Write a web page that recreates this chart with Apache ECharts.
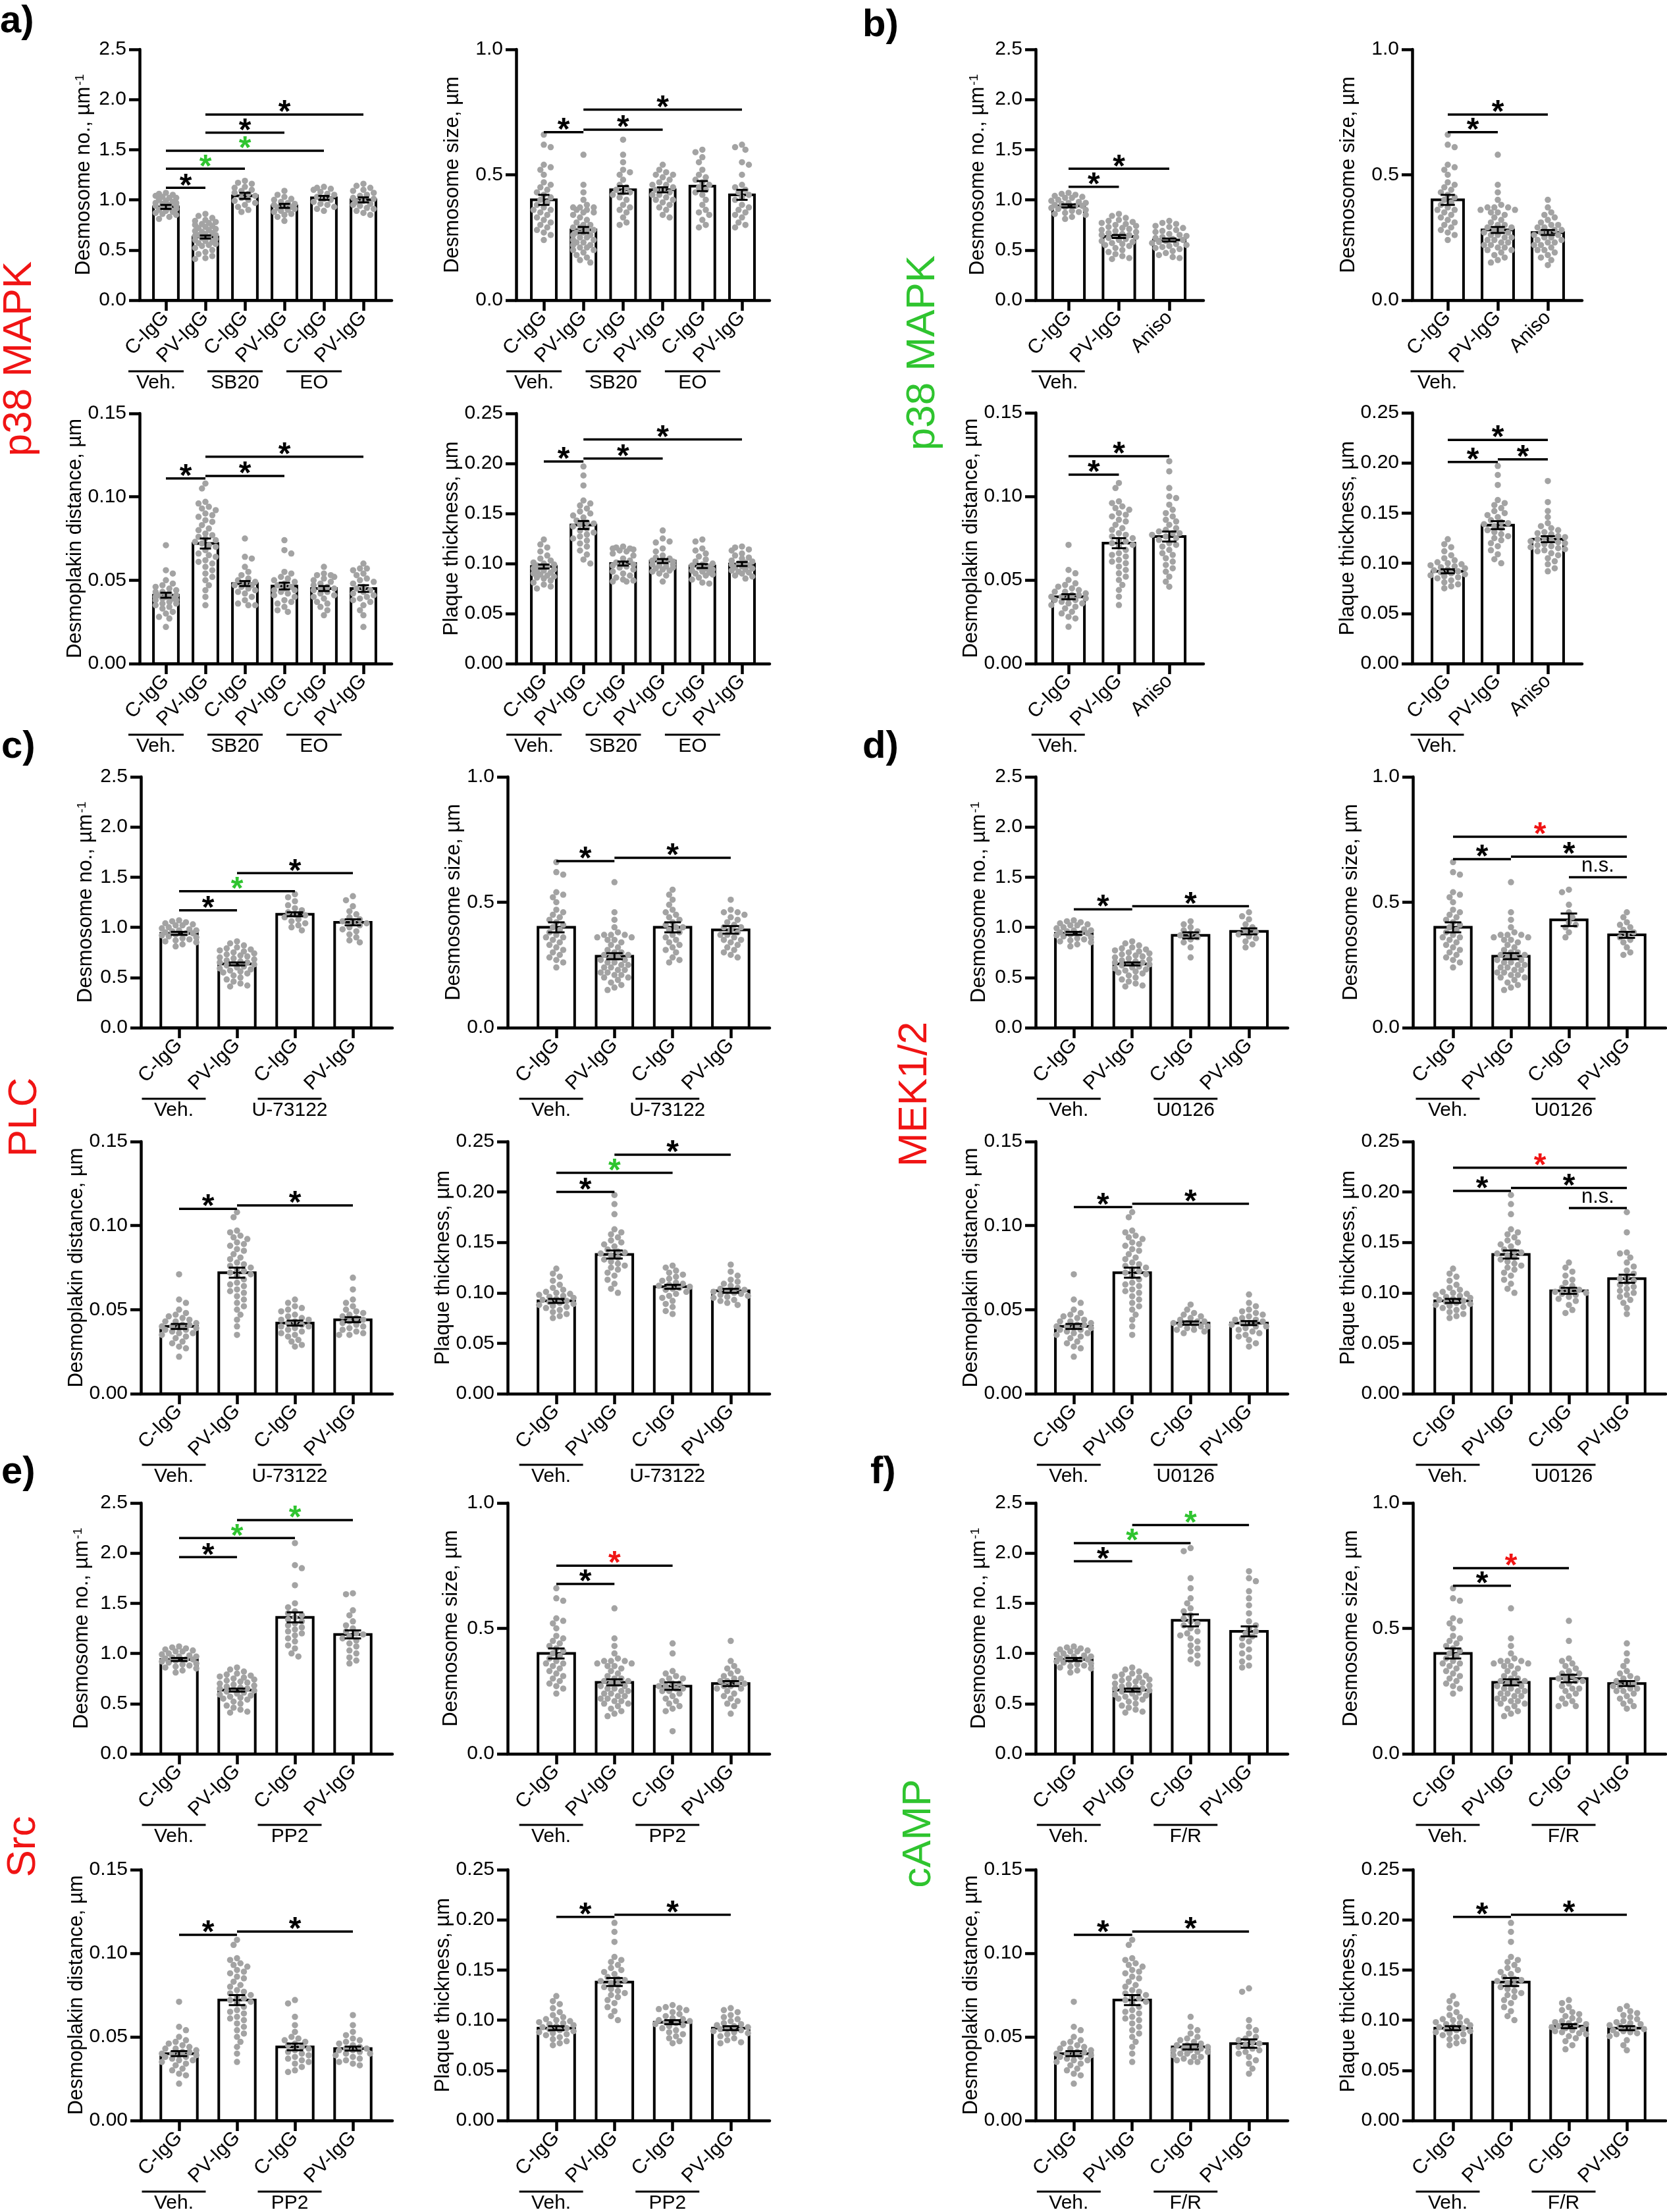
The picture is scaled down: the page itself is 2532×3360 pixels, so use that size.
<!DOCTYPE html>
<html>
<head>
<meta charset="utf-8">
<script src="https://cdn.jsdelivr.net/npm/echarts@6/dist/echarts.min.js"></script>
<style>
html,body{margin:0;padding:0;background:#fff}
#fig{width:2532px;height:3360px}
</style>
</head>
<body>
<div id="fig"></div>
<script>
// Veh. controls (C-IgG / PV-IgG) - same points appear in every panel
var ctlNoC = [1.07,1.05,1.06,1.04,1.03,1.02,1.02,1.00,0.99,0.98,0.97,0.97,0.96,0.95,0.94,0.94,0.93,0.92,0.91,0.90,0.89,0.88,0.87,0.86,0.85,0.83,0.81];
var ctlNoP = [0.86,0.84,0.82,0.80,0.79,0.78,0.77,0.76,0.75,0.74,0.73,0.72,0.71,0.70,0.69,0.68,0.67,0.66,0.65,0.65,0.64,0.63,0.62,0.61,0.60,0.59,0.58,0.57,0.56,0.55,0.54,0.52,0.50,0.48,0.46,0.44,0.42,0.41];
var ctlSzC = [0.66,0.62,0.61,0.54,0.53,0.52,0.50,0.47,0.46,0.45,0.44,0.43,0.42,0.41,0.40,0.39,0.38,0.37,0.36,0.36,0.35,0.34,0.33,0.32,0.31,0.30,0.29,0.28,0.27,0.26,0.24];
var ctlSzP = [0.58,0.46,0.43,0.40,0.38,0.37,0.37,0.37,0.36,0.36,0.35,0.35,0.34,0.33,0.32,0.31,0.30,0.30,0.29,0.29,0.28,0.28,0.27,0.27,0.26,0.26,0.25,0.25,0.24,0.24,0.23,0.23,0.22,0.22,0.21,0.21,0.20,0.20,0.19,0.18,0.17,0.16,0.15];
var ctlDpC = [0.071,0.056,0.054,0.050,0.048,0.047,0.046,0.045,0.044,0.043,0.043,0.042,0.041,0.041,0.040,0.040,0.039,0.039,0.038,0.038,0.037,0.036,0.036,0.035,0.034,0.033,0.031,0.030,0.028,0.027,0.022];
var ctlDpP = [0.108,0.105,0.097,0.096,0.094,0.093,0.092,0.090,0.089,0.088,0.086,0.085,0.083,0.081,0.080,0.078,0.077,0.076,0.075,0.074,0.073,0.072,0.071,0.070,0.068,0.066,0.065,0.064,0.062,0.061,0.060,0.058,0.056,0.054,0.052,0.050,0.047,0.044,0.040,0.035];
var ctlPlC = [0.124,0.119,0.116,0.112,0.108,0.105,0.103,0.101,0.100,0.099,0.098,0.097,0.096,0.095,0.094,0.093,0.092,0.091,0.090,0.089,0.088,0.087,0.086,0.085,0.083,0.081,0.079,0.077,0.075];
var ctlPlP = [0.197,0.188,0.178,0.163,0.160,0.158,0.155,0.152,0.150,0.148,0.146,0.143,0.141,0.140,0.139,0.137,0.135,0.133,0.131,0.129,0.127,0.125,0.123,0.120,0.117,0.113,0.109,0.104,0.100];

// a) p38 MAPK inhibition (SB20, EO)
var aLabels = ['C-IgG','PV-IgG','C-IgG','PV-IgG','C-IgG','PV-IgG'];
var aGroups = ['Veh.','SB20','EO'];
var aNoSBc = [1.19,1.17,1.16,1.13,1.12,1.10,1.09,1.07,1.06,1.04,1.02,1.00,0.99,0.97,0.95,0.93,0.90,0.88];
var aNoSBp = [1.09,1.05,1.03,1.01,1.00,0.98,0.97,0.96,0.95,0.94,0.93,0.92,0.91,0.90,0.89,0.88,0.86,0.85,0.83,0.79];
var aNoEOc = [1.13,1.12,1.11,1.10,1.08,1.06,1.05,1.03,1.01,1.00,0.98,0.96,0.95,0.93,0.91,0.89];
var aNoEOp = [1.16,1.14,1.12,1.10,1.09,1.07,1.05,1.04,1.02,1.01,0.99,0.98,0.96,0.95,0.94,0.92,0.91,0.89,0.87,0.85];
var aSzSBc = [0.64,0.58,0.55,0.52,0.51,0.50,0.48,0.46,0.45,0.44,0.43,0.43,0.42,0.41,0.40,0.38,0.37,0.36,0.35,0.33,0.31,0.30];
var aSzSBp = [0.54,0.52,0.51,0.50,0.50,0.49,0.48,0.47,0.46,0.46,0.45,0.44,0.44,0.43,0.42,0.42,0.41,0.40,0.40,0.39,0.38,0.37,0.36,0.34,0.33];
var aSzEOc = [0.60,0.59,0.57,0.55,0.52,0.50,0.49,0.48,0.47,0.46,0.45,0.44,0.43,0.42,0.40,0.38,0.36,0.35,0.34,0.32,0.30,0.29];
var aSzEOp = [0.62,0.61,0.60,0.55,0.54,0.50,0.46,0.45,0.44,0.43,0.42,0.41,0.40,0.38,0.37,0.36,0.35,0.34,0.33,0.31,0.30,0.29];
var aDpSBc = [0.075,0.064,0.063,0.058,0.055,0.053,0.051,0.050,0.049,0.048,0.047,0.047,0.046,0.045,0.044,0.043,0.042,0.040,0.038,0.036,0.035,0.035];
var aDpSBp = [0.074,0.068,0.066,0.055,0.054,0.052,0.051,0.050,0.049,0.048,0.047,0.046,0.045,0.044,0.044,0.043,0.042,0.041,0.040,0.038,0.037,0.036,0.034,0.032,0.031];
var aDpEOc = [0.058,0.054,0.053,0.053,0.052,0.051,0.050,0.049,0.048,0.047,0.046,0.045,0.045,0.044,0.043,0.042,0.041,0.040,0.039,0.037,0.036,0.034,0.032,0.029];
var aDpEOp = [0.060,0.057,0.057,0.056,0.054,0.053,0.051,0.050,0.049,0.048,0.046,0.045,0.044,0.043,0.042,0.041,0.040,0.039,0.038,0.037,0.035,0.032,0.029,0.022];
var aPlSBc = [0.117,0.116,0.115,0.115,0.114,0.113,0.112,0.110,0.108,0.105,0.103,0.101,0.100,0.099,0.098,0.097,0.096,0.094,0.092,0.090,0.088,0.086,0.084,0.083,0.082,0.082];
var aPlSBp = [0.133,0.125,0.122,0.121,0.115,0.112,0.108,0.106,0.105,0.104,0.103,0.102,0.101,0.100,0.099,0.099,0.098,0.097,0.096,0.095,0.094,0.093,0.092,0.090,0.088,0.082];
var aPlEOc = [0.124,0.122,0.115,0.113,0.110,0.107,0.104,0.102,0.100,0.099,0.098,0.097,0.096,0.095,0.094,0.093,0.092,0.091,0.090,0.089,0.088,0.086,0.084,0.081,0.080];
var aPlEOp = [0.117,0.116,0.114,0.113,0.110,0.108,0.106,0.105,0.103,0.102,0.101,0.100,0.099,0.098,0.097,0.096,0.095,0.094,0.093,0.092,0.091,0.090,0.088,0.087,0.085];
var aNoMean = [0.93,0.63,1.04,0.94,1.02,1.00], aNoSem = [0.02,0.015,0.03,0.02,0.02,0.025];
var aSzMean = [0.40,0.28,0.44,0.44,0.455,0.42], aSzSem = [0.02,0.012,0.015,0.01,0.02,0.02];
var aDpMean = [0.041,0.072,0.048,0.0465,0.045,0.045], aDpSem = [0.0015,0.003,0.0015,0.002,0.0015,0.002];
var aPlMean = [0.097,0.1385,0.100,0.1025,0.0975,0.0995], aPlSem = [0.002,0.004,0.002,0.002,0.002,0.002];
var aNoSig = [[0,1,1.12,'k'],[0,2,1.31,'g'],[0,4,1.49,'g'],[1,3,1.67,'k'],[1,5,1.85,'k']];
var aSzSig = [[0,1,0.67,'k'],[1,3,0.68,'k'],[1,5,0.76,'k']];
var aDpSig = [[0,1,0.111,'k'],[1,3,0.1125,'k'],[1,5,0.124,'k']];
var aPlSig = [[0,1,0.202,'k'],[1,3,0.205,'k'],[1,5,0.224,'k']];

// b) p38 MAPK activation (anisomycin)
var bLabels = ['C-IgG','PV-IgG','Aniso'];
var bGroups = ['Veh.'];
var bNoAn = [0.79,0.77,0.76,0.74,0.73,0.72,0.70,0.69,0.68,0.66,0.65,0.64,0.63,0.62,0.61,0.60,0.59,0.58,0.57,0.56,0.55,0.54,0.53,0.52,0.51,0.49,0.47,0.45,0.43,0.42];
var bSzAn = [0.40,0.37,0.35,0.34,0.33,0.32,0.31,0.30,0.30,0.29,0.29,0.28,0.28,0.27,0.27,0.26,0.26,0.25,0.25,0.24,0.24,0.23,0.23,0.22,0.22,0.21,0.20,0.20,0.19,0.18,0.17,0.16,0.14];
var bDpAn = [0.121,0.115,0.105,0.100,0.099,0.095,0.092,0.090,0.088,0.086,0.085,0.083,0.081,0.080,0.079,0.078,0.078,0.077,0.076,0.075,0.074,0.072,0.071,0.070,0.068,0.066,0.065,0.063,0.061,0.059,0.057,0.055,0.052,0.049,0.046];
var bPlAn = [0.182,0.161,0.152,0.146,0.140,0.137,0.135,0.133,0.131,0.130,0.129,0.127,0.126,0.125,0.124,0.123,0.122,0.121,0.120,0.119,0.118,0.117,0.116,0.115,0.114,0.113,0.112,0.110,0.108,0.105,0.102,0.099,0.095,0.092];
var bNoMean = [0.94,0.635,0.60], bNoSem = [0.015,0.015,0.015];
var bSzMean = [0.40,0.28,0.27], bSzSem = [0.02,0.012,0.01];
var bDpMean = [0.040,0.072,0.076], bDpSem = [0.0015,0.003,0.003];
var bPlMean = [0.092,0.138,0.124], bPlSem = [0.002,0.004,0.003];
var bNoSig = [[0,1,1.13,'k'],[0,2,1.31,'k']];
var bSzSig = [[0,1,0.67,'k'],[0,2,0.74,'k']];
var bDpSig = [[0,1,0.113,'k'],[0,2,0.124,'k']];
var bPlSig = [[0,1,0.201,'k'],[1,2,0.2035,'k'],[0,2,0.223,'k']];

// c) PLC (U-73122)
var cLabels = ['C-IgG','PV-IgG','C-IgG','PV-IgG'];
var cGroups = ['Veh.','U-73122'];
var cNoUc = [1.33,1.30,1.26,1.22,1.19,1.17,1.15,1.13,1.12,1.10,1.08,1.06,1.04,1.02,1.00,0.97];
var cNoUp = [1.31,1.27,1.21,1.16,1.13,1.10,1.08,1.06,1.05,1.04,1.02,1.00,0.98,0.96,0.93,0.90,0.87,0.85];
var cSzUc = [0.55,0.53,0.51,0.49,0.47,0.46,0.45,0.44,0.43,0.42,0.41,0.40,0.40,0.39,0.38,0.37,0.36,0.35,0.34,0.33,0.32,0.31,0.30,0.28,0.27,0.26];
var cSzUp = [0.51,0.47,0.46,0.46,0.45,0.44,0.43,0.42,0.41,0.40,0.40,0.39,0.38,0.37,0.37,0.36,0.35,0.35,0.34,0.33,0.32,0.31,0.30,0.29,0.28];
var cDpUc = [0.056,0.054,0.052,0.051,0.050,0.049,0.047,0.046,0.045,0.044,0.044,0.043,0.042,0.041,0.040,0.040,0.039,0.038,0.037,0.036,0.035,0.034,0.032,0.031,0.029,0.028];
var cDpUp = [0.069,0.062,0.056,0.054,0.052,0.050,0.049,0.048,0.047,0.046,0.045,0.044,0.043,0.042,0.041,0.040,0.039,0.038,0.037,0.036,0.035,0.035];
var cPlUc = [0.127,0.125,0.122,0.120,0.118,0.116,0.114,0.112,0.110,0.109,0.108,0.107,0.106,0.105,0.104,0.103,0.101,0.099,0.097,0.095,0.092,0.089,0.086,0.082,0.079];
var cPlUp = [0.128,0.121,0.117,0.113,0.111,0.109,0.107,0.105,0.104,0.103,0.102,0.101,0.100,0.099,0.098,0.097,0.096,0.095,0.093,0.092,0.090,0.088];
var cNoMean = [0.94,0.635,1.13,1.05], cNoSem = [0.015,0.015,0.02,0.03];
var cSzMean = [0.40,0.285,0.40,0.39], cSzSem = [0.02,0.012,0.02,0.015];
var cDpMean = [0.040,0.072,0.042,0.044], cDpSem = [0.0015,0.003,0.0015,0.0015];
var cPlMean = [0.092,0.138,0.106,0.102], cPlSem = [0.002,0.004,0.002,0.002];
var cNoSig = [[0,1,1.17,'k'],[0,2,1.36,'g'],[1,3,1.54,'k']];
var cSzSig = [[0,1,0.664,'k'],[1,3,0.677,'k']];
var cDpSig = [[0,1,0.110,'k'],[1,3,0.112,'k']];
var cPlSig = [[0,1,0.200,'k'],[0,2,0.219,'g'],[1,3,0.237,'k']];

// d) MEK1/2 (U0126)
var dLabels = ['C-IgG','PV-IgG','C-IgG','PV-IgG'];
var dGroups = ['Veh.','U0126'];
var dNoUc = [1.06,1.03,1.00,0.97,0.96,0.94,0.92,0.90,0.88,0.85,0.80,0.70];
var dNoUp = [1.15,1.11,1.08,1.03,1.00,0.97,0.95,0.93,0.91,0.89,0.86,0.83,0.80];
var dSzUc = [0.55,0.54,0.49,0.46,0.44,0.42,0.41,0.40,0.38,0.36];
var dSzUp = [0.46,0.44,0.42,0.41,0.40,0.39,0.38,0.37,0.36,0.35,0.34,0.32,0.30,0.29];
var dDpUc = [0.053,0.050,0.048,0.047,0.046,0.045,0.044,0.043,0.043,0.042,0.042,0.041,0.041,0.040,0.040,0.039,0.038,0.038,0.037,0.036];
var dDpUp = [0.059,0.054,0.052,0.050,0.049,0.048,0.047,0.046,0.045,0.044,0.044,0.043,0.042,0.042,0.041,0.040,0.040,0.039,0.038,0.037,0.036,0.035,0.034,0.032,0.030,0.028];
var dPlUc = [0.130,0.125,0.121,0.117,0.113,0.110,0.107,0.105,0.103,0.102,0.101,0.100,0.099,0.098,0.096,0.094,0.092,0.088,0.083,0.080];
var dPlUp = [0.180,0.160,0.140,0.139,0.135,0.130,0.126,0.122,0.119,0.116,0.114,0.112,0.110,0.108,0.106,0.104,0.102,0.100,0.098,0.096,0.093,0.090,0.085,0.079];
var dNoMean = [0.94,0.635,0.92,0.96], dNoSem = [0.015,0.015,0.03,0.03];
var dSzMean = [0.40,0.285,0.43,0.37], dSzSem = [0.02,0.012,0.025,0.012];
var dDpMean = [0.040,0.072,0.042,0.042], dDpSem = [0.0015,0.003,0.001,0.0012];
var dPlMean = [0.092,0.138,0.102,0.114], dPlSem = [0.002,0.004,0.003,0.004];
var dNoSig = [[0,1,1.18,'k'],[1,3,1.21,'k']];
var dSzSig = [[0,1,0.672,'k'],[1,3,0.682,'k'],[2,3,0.60,'ns'],[0,3,0.761,'r']];
var dDpSig = [[0,1,0.111,'k'],[1,3,0.113,'k']];
var dPlSig = [[0,1,0.201,'k'],[1,3,0.204,'k'],[2,3,0.184,'ns'],[0,3,0.224,'r']];

// e) Src (PP2)
var eLabels = ['C-IgG','PV-IgG','C-IgG','PV-IgG'];
var eGroups = ['Veh.','PP2'];
var eNoPc = [2.10,1.88,1.85,1.68,1.50,1.46,1.42,1.40,1.38,1.36,1.34,1.32,1.30,1.28,1.26,1.24,1.22,1.20,1.18,1.15,1.12,1.08,1.05,1.00,0.97];
var eNoPp = [1.60,1.59,1.43,1.38,1.32,1.28,1.25,1.22,1.20,1.19,1.17,1.15,1.13,1.10,1.07,1.03,1.00,0.96,0.93,0.90];
var eSzPc = [0.44,0.40,0.33,0.32,0.31,0.30,0.30,0.29,0.28,0.28,0.27,0.27,0.26,0.26,0.25,0.25,0.24,0.23,0.22,0.21,0.20,0.19,0.18,0.17,0.09];
var eSzPp = [0.45,0.37,0.35,0.34,0.33,0.32,0.31,0.30,0.30,0.29,0.29,0.28,0.28,0.27,0.27,0.26,0.26,0.25,0.24,0.23,0.22,0.21,0.20,0.19,0.16];
var eDpPc = [0.072,0.070,0.062,0.057,0.053,0.050,0.049,0.048,0.047,0.046,0.045,0.044,0.043,0.042,0.041,0.040,0.039,0.038,0.037,0.036,0.035,0.034,0.032,0.030,0.029];
var eDpPp = [0.063,0.057,0.053,0.051,0.049,0.048,0.047,0.046,0.045,0.044,0.043,0.043,0.042,0.042,0.041,0.040,0.040,0.039,0.038,0.037,0.036,0.035,0.034,0.033];
var ePlPc = [0.115,0.113,0.112,0.111,0.110,0.108,0.106,0.104,0.102,0.101,0.100,0.099,0.098,0.097,0.096,0.095,0.094,0.092,0.090,0.088,0.086,0.084,0.082,0.079,0.077];
var ePlPp = [0.112,0.110,0.108,0.105,0.103,0.101,0.099,0.097,0.096,0.095,0.094,0.093,0.092,0.091,0.090,0.089,0.088,0.087,0.086,0.084,0.082,0.080,0.078,0.077];
var eNoMean = [0.94,0.635,1.36,1.19], eNoSem = [0.015,0.015,0.05,0.04];
var eSzMean = [0.40,0.285,0.27,0.28], eSzSem = [0.02,0.012,0.015,0.01];
var eDpMean = [0.040,0.072,0.044,0.043], eDpSem = [0.0015,0.003,0.002,0.0012];
var ePlMean = [0.092,0.138,0.098,0.092], ePlSem = [0.002,0.004,0.002,0.002];
var eNoSig = [[0,1,1.96,'k'],[0,2,2.15,'g'],[1,3,2.33,'g']];
var eSzSig = [[0,1,0.677,'k'],[0,2,0.75,'r']];
var eDpSig = [[0,1,0.111,'k'],[1,3,0.113,'k']];
var ePlSig = [[0,1,0.203,'k'],[1,3,0.205,'k']];

// f) cAMP (F/R)
var fLabels = ['C-IgG','PV-IgG','C-IgG','PV-IgG'];
var fGroups = ['Veh.','F/R'];
var fNoFc = [2.05,2.02,1.75,1.65,1.55,1.50,1.45,1.42,1.38,1.35,1.32,1.30,1.28,1.25,1.22,1.20,1.18,1.15,1.12,1.08,1.05,1.02,0.98,0.94,0.90];
var fNoFp = [1.82,1.75,1.72,1.62,1.55,1.48,1.40,1.32,1.28,1.25,1.22,1.20,1.17,1.15,1.12,1.08,1.04,1.00,0.96,0.92,0.88,0.86];
var fSzFc = [0.53,0.45,0.38,0.37,0.36,0.35,0.34,0.33,0.32,0.32,0.31,0.30,0.30,0.29,0.29,0.28,0.27,0.26,0.26,0.25,0.24,0.23,0.22,0.21,0.20,0.19,0.19];
var fSzFp = [0.44,0.40,0.37,0.35,0.33,0.32,0.31,0.30,0.30,0.29,0.28,0.28,0.27,0.27,0.26,0.26,0.25,0.25,0.24,0.23,0.22,0.21,0.20,0.19,0.18];
var fDpFc = [0.062,0.056,0.054,0.052,0.050,0.049,0.048,0.047,0.046,0.045,0.045,0.044,0.044,0.043,0.043,0.042,0.042,0.041,0.041,0.040,0.040,0.039,0.038,0.038,0.037,0.036,0.035,0.035];
var fDpFp = [0.079,0.077,0.060,0.056,0.054,0.052,0.050,0.049,0.048,0.047,0.046,0.045,0.044,0.043,0.042,0.041,0.040,0.038,0.036,0.034,0.031,0.028];
var fPlFc = [0.120,0.117,0.113,0.110,0.108,0.106,0.104,0.102,0.100,0.099,0.098,0.097,0.096,0.095,0.094,0.093,0.092,0.091,0.090,0.089,0.088,0.087,0.086,0.084,0.082,0.079,0.075,0.071];
var fPlFp = [0.114,0.111,0.109,0.107,0.105,0.103,0.101,0.099,0.098,0.097,0.096,0.095,0.094,0.093,0.092,0.091,0.090,0.089,0.088,0.087,0.086,0.084,0.080,0.075,0.070];
var fNoMean = [0.94,0.635,1.33,1.22], fNoSem = [0.015,0.015,0.06,0.05];
var fSzMean = [0.40,0.285,0.30,0.28], fSzSem = [0.02,0.012,0.015,0.01];
var fDpMean = [0.040,0.072,0.044,0.046], fDpSem = [0.0015,0.003,0.0015,0.0025];
var fPlMean = [0.092,0.138,0.094,0.092], fPlSem = [0.002,0.004,0.002,0.002];
var fNoSig = [[0,1,1.92,'k'],[0,2,2.10,'g'],[1,3,2.28,'g']];
var fSzSig = [[0,1,0.67,'k'],[0,2,0.74,'r']];
var fDpSig = [[0,1,0.111,'k'],[1,3,0.113,'k']];
var fPlSig = [[0,1,0.203,'k'],[1,3,0.205,'k']];

var FONT = '"Liberation Sans", Arial, Helvetica, sans-serif';
var GREEN = '#2fc42f', RED = '#f01414', GRAY = '#a3a3a3';

var metrics = {
  no: {name: 'Desmosome no., µm{s|-1}', max: 2.5, step: 0.5, dec: 1},
  sz: {name: 'Desmosome size, µm', max: 1.0, step: 0.5, dec: 1},
  dp: {name: 'Desmoplakin distance, µm', max: 0.15, step: 0.05, dec: 2},
  pl: {name: 'Plaque thickness, µm', max: 0.25, step: 0.05, dec: 2}
};

var panels = [
  {labels: aLabels, groups: aGroups,
   no: {dots: [ctlNoC, ctlNoP, aNoSBc, aNoSBp, aNoEOc, aNoEOp], mean: aNoMean, sem: aNoSem, sig: aNoSig},
   sz: {dots: [ctlSzC, ctlSzP, aSzSBc, aSzSBp, aSzEOc, aSzEOp], mean: aSzMean, sem: aSzSem, sig: aSzSig},
   dp: {dots: [ctlDpC, ctlDpP, aDpSBc, aDpSBp, aDpEOc, aDpEOp], mean: aDpMean, sem: aDpSem, sig: aDpSig},
   pl: {dots: [ctlPlC, ctlPlP, aPlSBc, aPlSBp, aPlEOc, aPlEOp], mean: aPlMean, sem: aPlSem, sig: aPlSig},
   lay: {cols: [[212, 252, 60, 595], [784, 826, 60.2, 1169]], rows: [[75, 456], [628, 1008]], dist: [86, 98, 95, 91], gOff: -45, gLen: 84}},
  {labels: bLabels, groups: bGroups,
   no: {dots: [ctlNoC, ctlNoP, bNoAn], mean: bNoMean, sem: bNoSem, sig: bNoSig},
   sz: {dots: [ctlSzC, ctlSzP, bSzAn], mean: bSzMean, sem: bSzSem, sig: bSzSig},
   dp: {dots: [ctlDpC, ctlDpP, bDpAn], mean: bDpMean, sem: bDpSem, sig: bDpSig},
   pl: {dots: [ctlPlC, ctlPlP, bPlAn], mean: bPlMean, sem: bPlSem, sig: bPlSig},
   lay: {cols: [[1573, 1623, 76.5, 1828], [2145, 2199, 76, 2403]], rows: [[75, 456], [627, 1008]], dist: [89, 98, 98, 94], gOff: -54, gLen: 81}},
  {labels: cLabels, groups: cGroups,
   no: {dots: [ctlNoC, ctlNoP, cNoUc, cNoUp], mean: cNoMean, sem: cNoSem, sig: cNoSig},
   sz: {dots: [ctlSzC, ctlSzP, cSzUc, cSzUp], mean: cSzMean, sem: cSzSem, sig: cSzSig},
   dp: {dots: [ctlDpC, ctlDpP, cDpUc, cDpUp], mean: cDpMean, sem: cDpSem, sig: cDpSig},
   pl: {dots: [ctlPlC, ctlPlP, cPlUc, cPlUp], mean: cPlMean, sem: cPlSem, sig: cPlSig},
   lay: {cols: [[214, 272, 88, 596], [771, 845, 88.3, 1169]], rows: [[1180, 1561], [1734, 2117]], dist: [85, 81, 95, 81], gOff: -52, gLen: 97}},
  {labels: dLabels, groups: dGroups,
   no: {dots: [ctlNoC, ctlNoP, dNoUc, dNoUp], mean: dNoMean, sem: dNoSem, sig: dNoSig},
   sz: {dots: [ctlSzC, ctlSzP, dSzUc, dSzUp], mean: dSzMean, sem: dSzSem, sig: dSzSig},
   dp: {dots: [ctlDpC, ctlDpP, dDpUc, dDpUp], mean: dDpMean, sem: dDpSem, sig: dDpSig},
   pl: {dots: [ctlPlC, ctlPlP, dPlUc, dPlUp], mean: dPlMean, sem: dPlSem, sig: dPlSig},
   lay: {cols: [[1573, 1631, 88.7, 1956], [2146, 2207, 88, 2530]], rows: [[1180, 1561], [1734, 2117]], dist: [87, 95, 95, 95], gOff: -52, gLen: 97}},
  {labels: eLabels, groups: eGroups,
   no: {dots: [ctlNoC, ctlNoP, eNoPc, eNoPp], mean: eNoMean, sem: eNoSem, sig: eNoSig},
   sz: {dots: [ctlSzC, ctlSzP, eSzPc, eSzPp], mean: eSzMean, sem: eSzSem, sig: eSzSig},
   dp: {dots: [ctlDpC, ctlDpP, eDpPc, eDpPp], mean: eDpMean, sem: eDpSem, sig: eDpSig},
   pl: {dots: [ctlPlC, ctlPlP, ePlPc, ePlPp], mean: ePlMean, sem: ePlSem, sig: ePlSig},
   lay: {cols: [[214, 272, 88, 596], [771, 845, 88.3, 1169]], rows: [[2283, 2664], [2840, 3221]], dist: [91, 87, 99, 83], gOff: -52, gLen: 97}},
  {labels: fLabels, groups: fGroups,
   no: {dots: [ctlNoC, ctlNoP, fNoFc, fNoFp], mean: fNoMean, sem: fNoSem, sig: fNoSig},
   sz: {dots: [ctlSzC, ctlSzP, fSzFc, fSzFp], mean: fSzMean, sem: fSzSem, sig: fSzSig},
   dp: {dots: [ctlDpC, ctlDpP, fDpFc, fDpFp], mean: fDpMean, sem: fDpSem, sig: fDpSig},
   pl: {dots: [ctlPlC, ctlPlP, fPlFc, fPlFp], mean: fPlMean, sem: fPlSem, sig: fPlSig},
   lay: {cols: [[1573, 1631, 88.7, 1956], [2146, 2207, 88, 2530]], rows: [[2283, 2664], [2840, 3221]], dist: [87, 95, 95, 95], gOff: -52, gLen: 97}}
];

// panel letters and side titles
var sideTexts = [
  {t: 'a)', x: 0, y: 4, bold: true}, {t: 'b)', x: 1310, y: 10, bold: true},
  {t: 'c)', x: 2, y: 1106, bold: true}, {t: 'd)', x: 1310, y: 1106, bold: true},
  {t: 'e)', x: 2, y: 2208, bold: true}, {t: 'f)', x: 1322, y: 2208, bold: true},
  {t: 'p38 MAPK', x: 30, y: 545, c: RED}, {t: 'p38 MAPK', x: 1402, y: 536, c: GREEN},
  {t: 'PLC', x: 38, y: 1697, c: RED}, {t: 'MEK1/2', x: 1390, y: 1662, c: RED},
  {t: 'Src', x: 36, y: 2805, c: RED}, {t: 'cAMP', x: 1396, y: 2785, c: GREEN}
];

// simple beeswarm so points do not pile on each other (pixel space)
function swarm(vals, pxY, d, maxHalf) {
  var order = vals.map(function (v, i) { return {y: v * pxY, i: i}; });
  order.sort(function (a, b) { return b.y - a.y; });
  var placed = [], out = [];
  var step = d * 0.55, nStep = Math.floor(maxHalf / step);
  order.forEach(function (p, n) {
    var best = 0, bestCost = Infinity;
    for (var j = 0; j <= nStep * 2; j++) {
      var k = j % 2 ? (j + 1) / 2 : -j / 2;
      if (n % 2) k = -k;
      var x = k * step, cost = 0;
      for (var q = 0; q < placed.length; q++) {
        var dd = Math.hypot(x - placed[q].x, p.y - placed[q].y);
        if (dd < d * 0.92) cost += d * 0.92 - dd;
      }
      if (cost === 0) { best = x; bestCost = 0; break; }
      if (cost < bestCost) { bestCost = cost; best = x; }
    }
    placed.push({x: best, y: p.y});
    out[p.i] = best;
  });
  return out;
}

var option = {animation: false, backgroundColor: '#fff', textStyle: {fontFamily: FONT},
  grid: [], xAxis: [], yAxis: [], series: [], graphic: []};

var DOT = 9.5, AXW = 4.5;
var slots = [['no', 0, 0], ['sz', 1, 0], ['dp', 0, 1], ['pl', 1, 1]];

panels.forEach(function (p) {
  slots.forEach(function (slot, si) {
    var mk = slot[0], m = metrics[mk], d = p[mk], L = p.lay;
    var col = L.cols[slot[1]], row = L.rows[slot[2]];
    var axisX = col[0], first = col[1], sp = col[2], end = col[3];
    var top = row[0], bot = row[1];
    var n = p.labels.length, last = first + (n - 1) * sp;
    var xmin = -(first - axisX) / sp, xmax = (n - 1) + (end - last) / sp;
    var gi = option.grid.length;
    var barW = 0.63 * sp, capW = 0.45 * barW;
    var pxY = (bot - top) / m.max;
    var ticks = [];
    for (var t = 0; t < n; t++) ticks.push(t);

    option.grid.push({left: axisX, top: top, width: end - axisX, height: bot - top});
    option.xAxis.push({
      gridIndex: gi, type: 'value', min: xmin, max: xmax,
      axisLine: {show: true, onZero: false, lineStyle: {color: '#000', width: AXW}},
      axisTick: {show: true, customValues: ticks, length: 16, lineStyle: {color: '#000', width: AXW}},
      axisLabel: {customValues: ticks, rotate: 45, margin: 22, fontSize: 30, color: '#000',
        formatter: function (v) { return p.labels[Math.round(v)]; }},
      splitLine: {show: false}
    });
    option.yAxis.push({
      gridIndex: gi, type: 'value', min: 0, max: m.max, interval: m.step,
      name: m.name, nameLocation: 'middle', nameGap: L.dist[si] - 17,
      nameTextStyle: {fontSize: 31, color: '#000',
        rich: {s: {fontSize: 19, verticalAlign: 'top', color: '#000', padding: [0, 0, 12, 2]}}},
      axisLine: {show: true, onZero: false, lineStyle: {color: '#000', width: AXW}},
      axisTick: {show: true, length: 16, lineStyle: {color: '#000', width: AXW}},
      axisLabel: {fontSize: 30, color: '#000', margin: 20,
        formatter: function (v) { return v.toFixed(m.dec); }},
      splitLine: {show: false}
    });

    // bars
    option.series.push({
      type: 'custom', xAxisIndex: gi, yAxisIndex: gi, z: 1, silent: true,
      data: d.mean.map(function (v, k) { return [k, v]; }),
      renderItem: function (params, api) {
        var tp = api.coord([api.value(0), api.value(1)]), bt = api.coord([api.value(0), 0]);
        return {type: 'rect', shape: {x: tp[0] - barW / 2, y: tp[1], width: barW, height: bt[1] - tp[1]},
          style: {fill: '#fff', stroke: '#000', lineWidth: 4}};
      }
    });
    // points
    var pts = [];
    d.dots.forEach(function (vals, k) {
      var off = swarm(vals, pxY, DOT, barW * 0.55);
      vals.forEach(function (v, i) { pts.push([k + off[i] / sp, v]); });
    });
    option.series.push({
      type: 'scatter', xAxisIndex: gi, yAxisIndex: gi, z: 2, silent: true,
      symbolSize: DOT, itemStyle: {color: GRAY, opacity: 1}, data: pts
    });
    // SEM error bars
    option.series.push({
      type: 'custom', xAxisIndex: gi, yAxisIndex: gi, z: 3, silent: true,
      data: d.mean.map(function (v, k) { return [k, v]; }),
      renderItem: function (params, api) {
        var k = api.value(0), mv = api.value(1), se = d.sem[params.dataIndex];
        var hi = api.coord([k, mv + se]), lo = api.coord([k, mv - se]);
        var st = {stroke: '#000', lineWidth: 3};
        return {type: 'group', children: [
          {type: 'line', shape: {x1: hi[0], y1: hi[1], x2: lo[0], y2: lo[1]}, style: st},
          {type: 'line', shape: {x1: hi[0] - capW / 2, y1: hi[1], x2: hi[0] + capW / 2, y2: hi[1]}, style: st},
          {type: 'line', shape: {x1: lo[0] - capW / 2, y1: lo[1], x2: lo[0] + capW / 2, y2: lo[1]}, style: st}
        ]};
      }
    });
    // significance brackets
    option.series.push({
      type: 'custom', xAxisIndex: gi, yAxisIndex: gi, z: 4, silent: true,
      data: d.sig.map(function (s) { return [s[0], s[2]]; }),
      renderItem: function (params, api) {
        var s = d.sig[params.dataIndex];
        var p1 = api.coord([s[0], s[2]]), p2 = api.coord([s[1], s[2]]);
        var ns = s[3] === 'ns';
        var c = s[3] === 'g' ? GREEN : (s[3] === 'r' ? RED : '#000');
        return {type: 'group', children: [
          {type: 'line', shape: {x1: p1[0], y1: p1[1], x2: p2[0], y2: p2[1]}, style: {stroke: '#000', lineWidth: 3.5}},
          {type: 'text', x: (p1[0] + p2[0]) / 2, y: p1[1] - (ns ? 17 : 2),
            style: {text: ns ? 'n.s.' : '*', fill: c, font: ns ? '31px ' + FONT : 'bold 48px ' + FONT,
              align: 'center', verticalAlign: 'middle'}}
        ]};
      }
    });
    // treatment group labels under the category labels
    option.series.push({
      type: 'custom', xAxisIndex: gi, yAxisIndex: gi, z: 4, silent: true, clip: false,
      data: p.groups.map(function (g, k) { return [2 * k + 0.5, 0]; }),
      renderItem: function (params, api) {
        var q = api.coord([api.value(0), 0]);
        var cx = q[0] + L.gOff, y = q[1] + 108;
        return {type: 'group', children: [
          {type: 'line', shape: {x1: cx - L.gLen / 2, y1: y, x2: cx + L.gLen / 2, y2: y}, style: {stroke: '#000', lineWidth: 3}},
          {type: 'text', x: cx, y: y + 18, style: {text: p.groups[params.dataIndex], fill: '#000',
            font: '30px ' + FONT, align: 'center', verticalAlign: 'middle'}}
        ]};
      }
    });
  });
});

sideTexts.forEach(function (s) {
  if (s.bold) {
    option.graphic.push({type: 'text', x: s.x, y: s.y, silent: true,
      style: {text: s.t, font: 'bold 58px ' + FONT, fill: '#000', align: 'left', verticalAlign: 'top'}});
  } else {
    option.graphic.push({type: 'text', x: s.x, y: s.y, rotation: Math.PI / 2, silent: true,
      style: {text: s.t, font: '62px ' + FONT, fill: s.c, align: 'center', verticalAlign: 'middle'}});
  }
});

var chart = echarts.init(document.getElementById('fig'), null, {renderer: 'canvas', width: 2532, height: 3360});
chart.setOption(option);
</script>
</body>
</html>
